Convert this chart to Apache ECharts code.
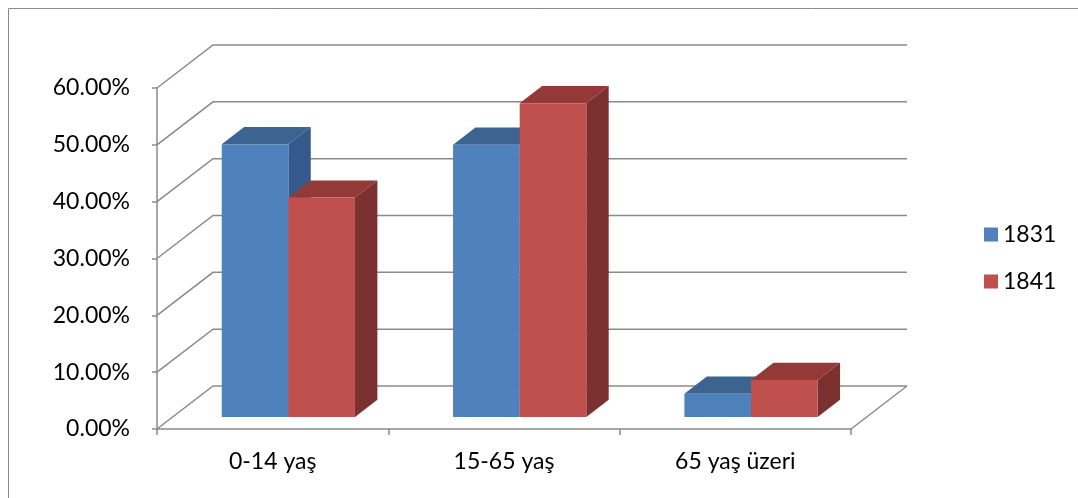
<!DOCTYPE html>
<html style="height: 100%">
   <head>
       <meta charset="utf-8">
   </head>
   <body style="height: 100%; margin: 0">
       <div id="container" style="width: 1078px; height: 498px"></div>
       <script type="text/javascript" src="https://cdn.jsdelivr.net/npm/echarts@6/dist/echarts.min.js"></script>
       <script type="text/javascript">
var categories = ['0-14 yaş', '15-65 yaş', '65 yaş üzeri'];
var years = ['1831', '1841'];
var values1831 = [0.480, 0.479, 0.041];
var values1841 = [0.386, 0.552, 0.065];
var yTicks = [0, 0.1, 0.2, 0.3, 0.4, 0.5, 0.6];

// perspective offsets
var DEPTH_X = 56, DEPTH_Y = -43;     // whole floor depth
var BAR_F0 = 0.28, BAR_F1 = 0.68;    // bar depth range (fraction of floor)
var BAR_W = 0.288;                   // bar width, fraction of category

var colors = {
    '1831': { front: '#4F81BD', top: '#3D6391', side: '#34598A' },
    '1841': { front: '#C0504D', top: '#933A38', side: '#7B3130' }
};

var dom = document.getElementById("container");
var myChart = echarts.init(dom);

function gridRender(params, api) {
    var cs = params.coordSys;
    var y = api.coord([0, api.value(1)])[1];
    var children = [{
        type: 'polyline',
        shape: { points: [[cs.x, y], [cs.x + DEPTH_X, y + DEPTH_Y], [cs.x + cs.width + DEPTH_X, y + DEPTH_Y]] },
        style: { stroke: '#8a8a8a', lineWidth: 1.5, fill: null }
    }];
    if (api.value(1) === 0) {
        children.push({
            type: 'line',
            shape: { x1: cs.x + cs.width, y1: y, x2: cs.x + cs.width + DEPTH_X, y2: y + DEPTH_Y },
            style: { stroke: '#8a8a8a', lineWidth: 1.5 }
        });
    }
    return { type: 'group', children: children };
}

function barRender(year, idx) {
    var c = colors[year];
    return function (params, api) {
        var catW = api.size([1, 0])[0];
        var bw = catW * BAR_W;
        var top = api.coord([api.value(0), api.value(1)]);
        var base = api.coord([api.value(0), 0]);
        var dx0 = DEPTH_X * BAR_F0, dy0 = DEPTH_Y * BAR_F0;
        var ddx = DEPTH_X * (BAR_F1 - BAR_F0), ddy = DEPTH_Y * (BAR_F1 - BAR_F0);
        var x0 = top[0] + dx0 + (idx === 0 ? -bw : 0);
        var x1 = x0 + bw;
        var yT = top[1] + dy0, yB = base[1] + dy0;
        return {
            type: 'group',
            children: [
                { type: 'polygon', shape: { points: [[x0, yT], [x1, yT], [x1 + ddx, yT + ddy], [x0 + ddx, yT + ddy]] }, style: { fill: c.top } },
                { type: 'polygon', shape: { points: [[x1, yT], [x1 + ddx, yT + ddy], [x1 + ddx, yB + ddy], [x1, yB]] }, style: { fill: c.side } },
                { type: 'polygon', shape: { points: [[x0, yT], [x1, yT], [x1, yB], [x0, yB]] }, style: { fill: c.front } }
            ]
        };
    };
}

var option = {
    animation: false,
    textStyle: { fontFamily: 'Lato' },
    graphic: [
        { type: 'polyline', shape: { points: [[8.5, 600], [8.5, 8.5], [1200, 8.5]] }, style: { stroke: '#8a8a8a', lineWidth: 1, fill: null } }
    ],
    legend: {
        data: years,
        orient: 'vertical',
        left: 979,
        top: 218,
        icon: 'rect',
        itemWidth: 14,
        itemHeight: 14,
        itemGap: 24,
        textStyle: { fontFamily: 'Lato', fontSize: 23, color: '#000' }
    },
    grid: { left: 157, right: 227, top: 88, bottom: 69 },
    xAxis: {
        type: 'category',
        data: categories,
        axisLine: { lineStyle: { color: '#8a8a8a', width: 1.5 } },
        axisTick: { show: true, length: 6, lineStyle: { color: '#8a8a8a', width: 1.5 } },
        axisLabel: { fontFamily: 'Lato', fontSize: 23, color: '#000', margin: 21 },
        splitLine: { show: false }
    },
    yAxis: {
        type: 'value',
        min: 0,
        max: 0.6,
        interval: 0.1,
        axisLine: { show: true, lineStyle: { color: '#8a8a8a', width: 1.5 } },
        axisTick: { show: true, length: 5, lineStyle: { color: '#8a8a8a', width: 1.5 } },
        axisLabel: {
            fontFamily: 'Lato', fontSize: 23, color: '#000', margin: 27,
            formatter: function (v) { return (v * 100).toFixed(2) + '%'; }
        },
        splitLine: { show: false }
    },
    series: [
        {
            type: 'custom',
            name: 'grid',
            renderItem: gridRender,
            data: yTicks.map(function (v) { return [0, v]; }),
            encode: { x: 0, y: 1 },
            silent: true,
            z: 1
        },
        {
            type: 'custom',
            name: years[0],
            renderItem: barRender(years[0], 0),
            itemStyle: { color: colors['1831'].front },
            data: values1831.map(function (v, i) { return [i, v]; }),
            encode: { x: 0, y: 1 },
            z: 2
        },
        {
            type: 'custom',
            name: years[1],
            renderItem: barRender(years[1], 1),
            itemStyle: { color: colors['1841'].front },
            data: values1841.map(function (v, i) { return [i, v]; }),
            encode: { x: 0, y: 1 },
            z: 3
        }
    ]
};

myChart.setOption(option);
       </script>
   </body>
</html>
